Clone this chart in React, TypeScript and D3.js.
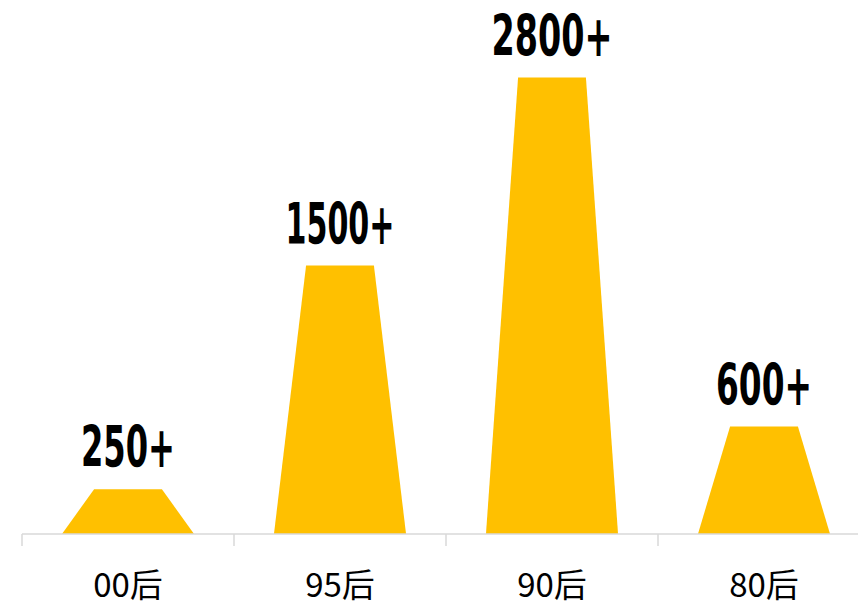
import React from "react";
import * as d3 from "d3";

const categories = ["00后", "95后", "90后", "80后"];
const values = [250, 1500, 2550, 600];
const valueLabels = ["250+", "1500+", "2800+", "600+"];
const labelWidths = [94, 109, 121, 96];

const W = 858;
const H = 601;

export default function App() {
  const x = d3.scaleBand<string>().domain(categories).range([22, 870]).padding(0);
  const y = d3.scaleLinear().domain([0, 3000]).range([534, 534 - 3000 * 0.179]);
  const bw = x.bandwidth();
  const bottomW = bw * 0.623;
  const topW = bw * 0.32;
  const ticks = categories.map((c) => x(c) as number);

  return (
    <svg
      width={W}
      height={H}
      style={{ position: "absolute", left: 0, top: 0, background: "#fff" }}
    >
      {categories.map((c, i) => {
        const cx = (x(c) as number) + bw / 2;
        const y0 = y(0);
        const y1 = y(values[i]);
        const path = d3.path();
        path.moveTo(cx - bottomW / 2, y0);
        path.lineTo(cx - topW / 2, y1);
        path.lineTo(cx + topW / 2, y1);
        path.lineTo(cx + bottomW / 2, y0);
        path.closePath();
        return <path key={c} d={path.toString()} fill="#FFC000" />;
      })}
      <line x1={22} x2={W} y1={534} y2={534} stroke="#d9d9d9" strokeWidth={1.5} />
      {ticks.map((t, i) => (
        <line key={i} x1={t} x2={t} y1={534} y2={546} stroke="#d9d9d9" strokeWidth={1.5} />
      ))}
      {categories.map((c, i) => {
        const cx = (x(c) as number) + bw / 2;
        return (
          <text
            key={c}
            x={cx - labelWidths[i] / 2}
            y={y(values[i]) - 22}
            fontFamily="'DejaVu Sans Condensed', 'DejaVu Sans', sans-serif"
            fontWeight="bold"
            fontSize={57}
            textLength={labelWidths[i]}
            lengthAdjust="spacingAndGlyphs"
            fill="#000"
          >
            {valueLabels[i]}
          </text>
        );
      })}
      {categories.map((c) => {
        const cx = (x(c) as number) + bw / 2;
        return (
          <text
            key={c}
            x={cx}
            y={597}
            textAnchor="middle"
            fontFamily="'Noto Sans CJK SC', 'Noto Sans', sans-serif"
            fontSize={33}
            fill="#000"
          >
            {c}
          </text>
        );
      })}
    </svg>
  );
}
